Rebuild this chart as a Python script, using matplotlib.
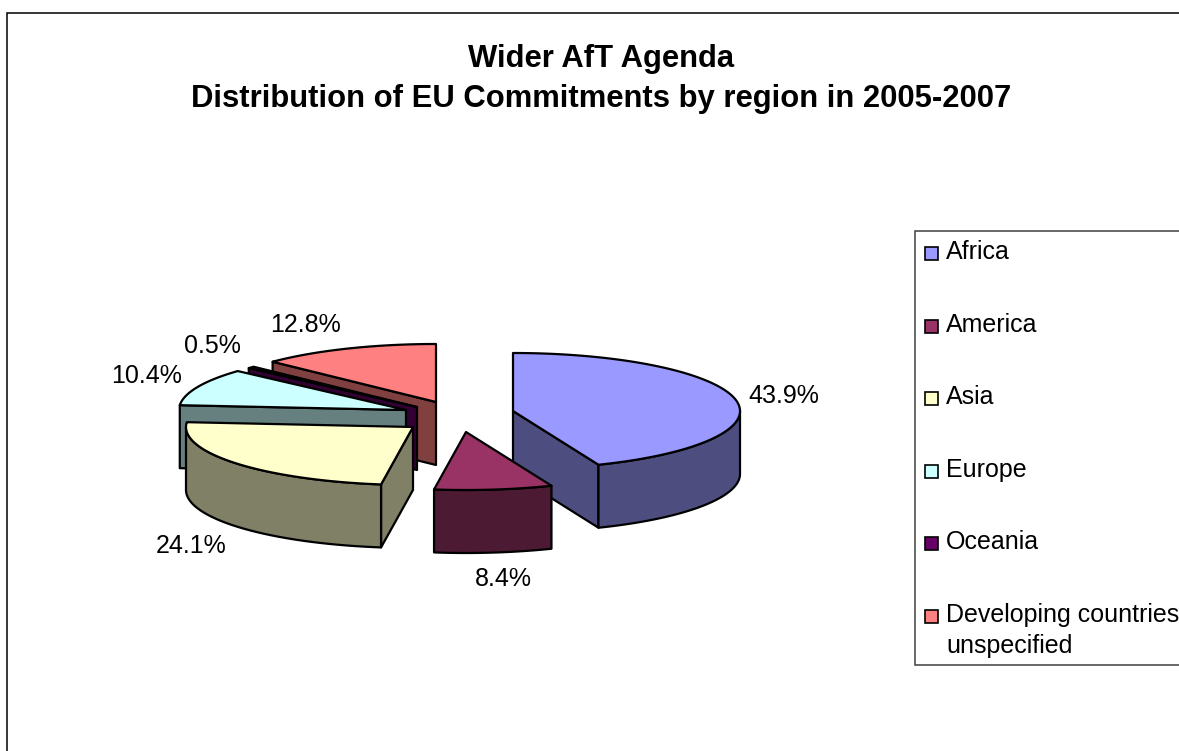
import numpy as np
import matplotlib
matplotlib.use("Agg")
import matplotlib.pyplot as plt
from matplotlib.patches import Polygon, Rectangle

plt.rcParams['font.family'] = ['Liberation Sans', 'DejaVu Sans']

title_lines = ["Wider AfT Agenda", "Distribution of EU Commitments by region in 2005-2007"]
regions = ["Africa", "America", "Asia", "Europe", "Oceania", "Developing countries\nunspecified"]
shares = [43.9, 8.4, 24.1, 10.4, 0.5, 12.8]
top_colors = ["#9999FF", "#993366", "#FFFFCC", "#CCFFFF", "#660066", "#FF8080"]
side_colors = ["#4D4D80", "#4D1A33", "#808066", "#668080", "#330033", "#804040"]

# layout (pixels)
W, H = 1179, 751
RX, RY, DEPTH = 227, 58, 63
centres = [(513, 411), (466, 432), (413, 427), (406, 410), (417, 407), (436, 402)]
label_pos = [(783.5, 403), (503, 586), (191, 553), (147, 383), (212, 353), (305, 332)]
legend_base = [259, 332, 404, 476.5, 549, 622]
swatch_top = [247, 319.5, 392, 464.5, 537, 609.5]
draw_order = [5, 4, 3, 0, 1, 2]
LW = 1.6

fig = plt.figure(figsize=(W / 100, H / 100), dpi=100)
ax = fig.add_axes([0, 0, 1, 1])
ax.set_xlim(0, W)
ax.set_ylim(H, 0)
ax.axis("off")

ax.add_patch(Rectangle((6.5, 12.5), W + 20, H + 20, fc="white", ec="black", lw=1.1))


def rim(c, a0, a1, dz=0.0):
    t = np.radians(np.linspace(a0, a1, max(int(abs(a1 - a0)) * 2, 2)))
    return np.column_stack([c[0] + RX * np.sin(t), c[1] - RY * np.cos(t) + dz])


def poly(pts, fc, z):
    ax.add_patch(Polygon(pts, closed=True, fc=fc, ec="black", lw=LW, joinstyle="round", zorder=z))


bounds = np.concatenate([[0], np.cumsum(shares)]) / sum(shares) * 360
for n, i in enumerate(draw_order):
    c = centres[i]
    a0, a1 = bounds[i], bounds[i + 1]
    z = 2 + n
    faces = []
    if np.sin(np.radians(a0)) < -1e-6:
        faces.append(a0)
    if np.sin(np.radians(a1)) > 1e-6:
        faces.append(a1)
    for a in faces:
        p = rim(c, a, a, 0)[0]
        poly([c, p, (p[0], p[1] + DEPTH), (c[0], c[1] + DEPTH)], side_colors[i], z)
    w0, w1 = max(a0, 90), min(a1, 270)
    if w1 > w0:
        poly(np.vstack([rim(c, w0, w1), rim(c, w1, w0, DEPTH)]), side_colors[i], z)
    poly(np.vstack([[c], rim(c, a0, a1)]), top_colors[i], z)

for share, (x, y) in zip(shares, label_pos):
    ax.text(x, y, f"{share:.1f}%", fontsize=18, ha="center", va="baseline", color="black", zorder=20)

ax.text(601, 67.5, title_lines[0], fontsize=22.3, fontweight="bold", ha="center", va="baseline")
ax.text(601, 107.5, title_lines[1], fontsize=22.3, fontweight="bold", ha="center", va="baseline")

ax.add_patch(Rectangle((914.5, 230.5), W, 434, fc="white", ec="#404040", lw=1.1, zorder=21))
for name, color, y, st in zip(regions, top_colors, legend_base, swatch_top):
    ax.add_patch(Rectangle((925, st), 13, 13, fc=color, ec="black", lw=1.2, zorder=22))
    ax.text(946, y, name.split("\n")[0], fontsize=18, ha="left", va="baseline", zorder=22)
    if "\n" in name:
        ax.text(946, y + 31, name.split("\n")[1], fontsize=18, ha="left", va="baseline", zorder=22)

fig.savefig("out.png", dpi=100, facecolor="white")
